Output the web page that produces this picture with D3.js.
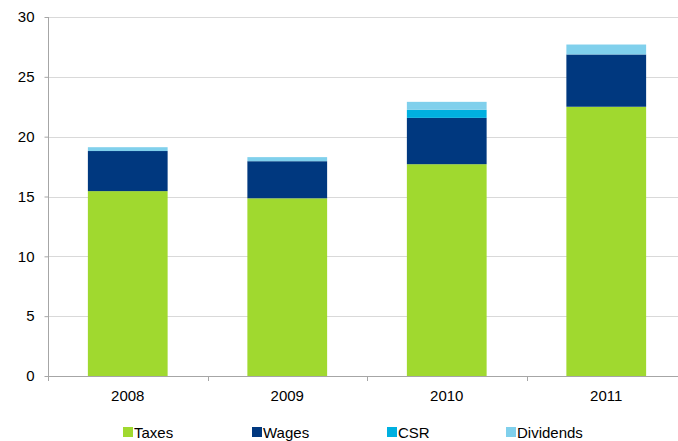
<!DOCTYPE html>
<html><head><meta charset="utf-8">
<script src="https://cdn.jsdelivr.net/npm/d3@7"></script>
<style>body{margin:0;background:#fff}svg{display:block}text{font-family:"Liberation Sans",Arial,sans-serif;font-size:15px;fill:#000}</style>
</head><body>
<script>
const years = ["2008","2009","2010","2011"];
const seriesNames = ["Taxes","Wages","CSR","Dividends"];
const taxes = [15.45, 14.85, 17.7, 22.5];
const wages = [3.35, 3.1, 3.87, 4.37];
const csr = [0.0, 0.0, 0.67, 0.0];
const dividends = [0.32, 0.34, 0.67, 0.83];
const yTicks = [0,5,10,15,20,25,30];
const colors = ["#a0d92f","#00387f","#00b0e0","#80d0ec"];

const W=678,H=441;
const svg=d3.select("body").append("svg").attr("width",W).attr("height",H);
const x=d3.scaleBand().domain(years).range([48,686]).paddingInner(0.5).paddingOuter(0.25);
const y=d3.scaleLinear().domain([0,30]).range([376,17]);

// gridlines
svg.append("g").selectAll("line").data(yTicks.slice(1)).join("line")
  .attr("x1",48).attr("x2",W).attr("y1",d=>Math.round(y(d))+0.5).attr("y2",d=>Math.round(y(d))+0.5)
  .attr("stroke","#d9d9d9").attr("stroke-width",1);

const table=years.map((yr,i)=>({year:yr,Taxes:taxes[i],Wages:wages[i],CSR:csr[i],Dividends:dividends[i]}));
const stack=d3.stack().keys(seriesNames)(table);
svg.append("g").selectAll("g").data(stack).join("g").attr("fill",(d,i)=>colors[i])
  .selectAll("rect").data(d=>d).join("rect")
  .attr("x",d=>x(d.data.year)).attr("width",x.bandwidth())
  .attr("y",d=>y(d[1])).attr("height",d=>y(d[0])-y(d[1]));

// y axis
const ya=svg.append("g").attr("transform","translate(48.5,0)")
  .call(d3.axisLeft(y).tickValues(yTicks).tickSize(4).tickPadding(10));
ya.select(".domain").attr("stroke","#a6a6a6").attr("d","M0,"+y(30)+"V"+(y(0)+0.5));
ya.selectAll(".tick line").attr("stroke","#a6a6a6");
ya.selectAll("text").attr("font-size",null).attr("font-family",null);

// x axis
const boundaries=years.map(d=>x(d)-x.step()*x.paddingInner()/2).concat([686]);
svg.append("line").attr("x1",48).attr("x2",W).attr("y1",376.5).attr("y2",376.5).attr("stroke","#a6a6a6");
svg.append("g").selectAll("line").data(boundaries).join("line")
  .attr("x1",d=>Math.round(d)+0.5).attr("x2",d=>Math.round(d)+0.5).attr("y1",376).attr("y2",381).attr("stroke","#a6a6a6");
svg.append("g").selectAll("text").data(years).join("text")
  .attr("x",d=>x(d)+x.bandwidth()/2).attr("y",401).attr("text-anchor","middle").text(d=>d);

// legend
const legX=[123,252,387,506];
const lg=svg.append("g").selectAll("g").data(seriesNames).join("g").attr("transform",(d,i)=>`translate(${legX[i]},427)`);
lg.append("rect").attr("width",10).attr("height",10).attr("fill",(d,i)=>colors[i]);
lg.append("text").attr("x",11).attr("y",10.5).text(d=>d);
</script>
</body></html>
